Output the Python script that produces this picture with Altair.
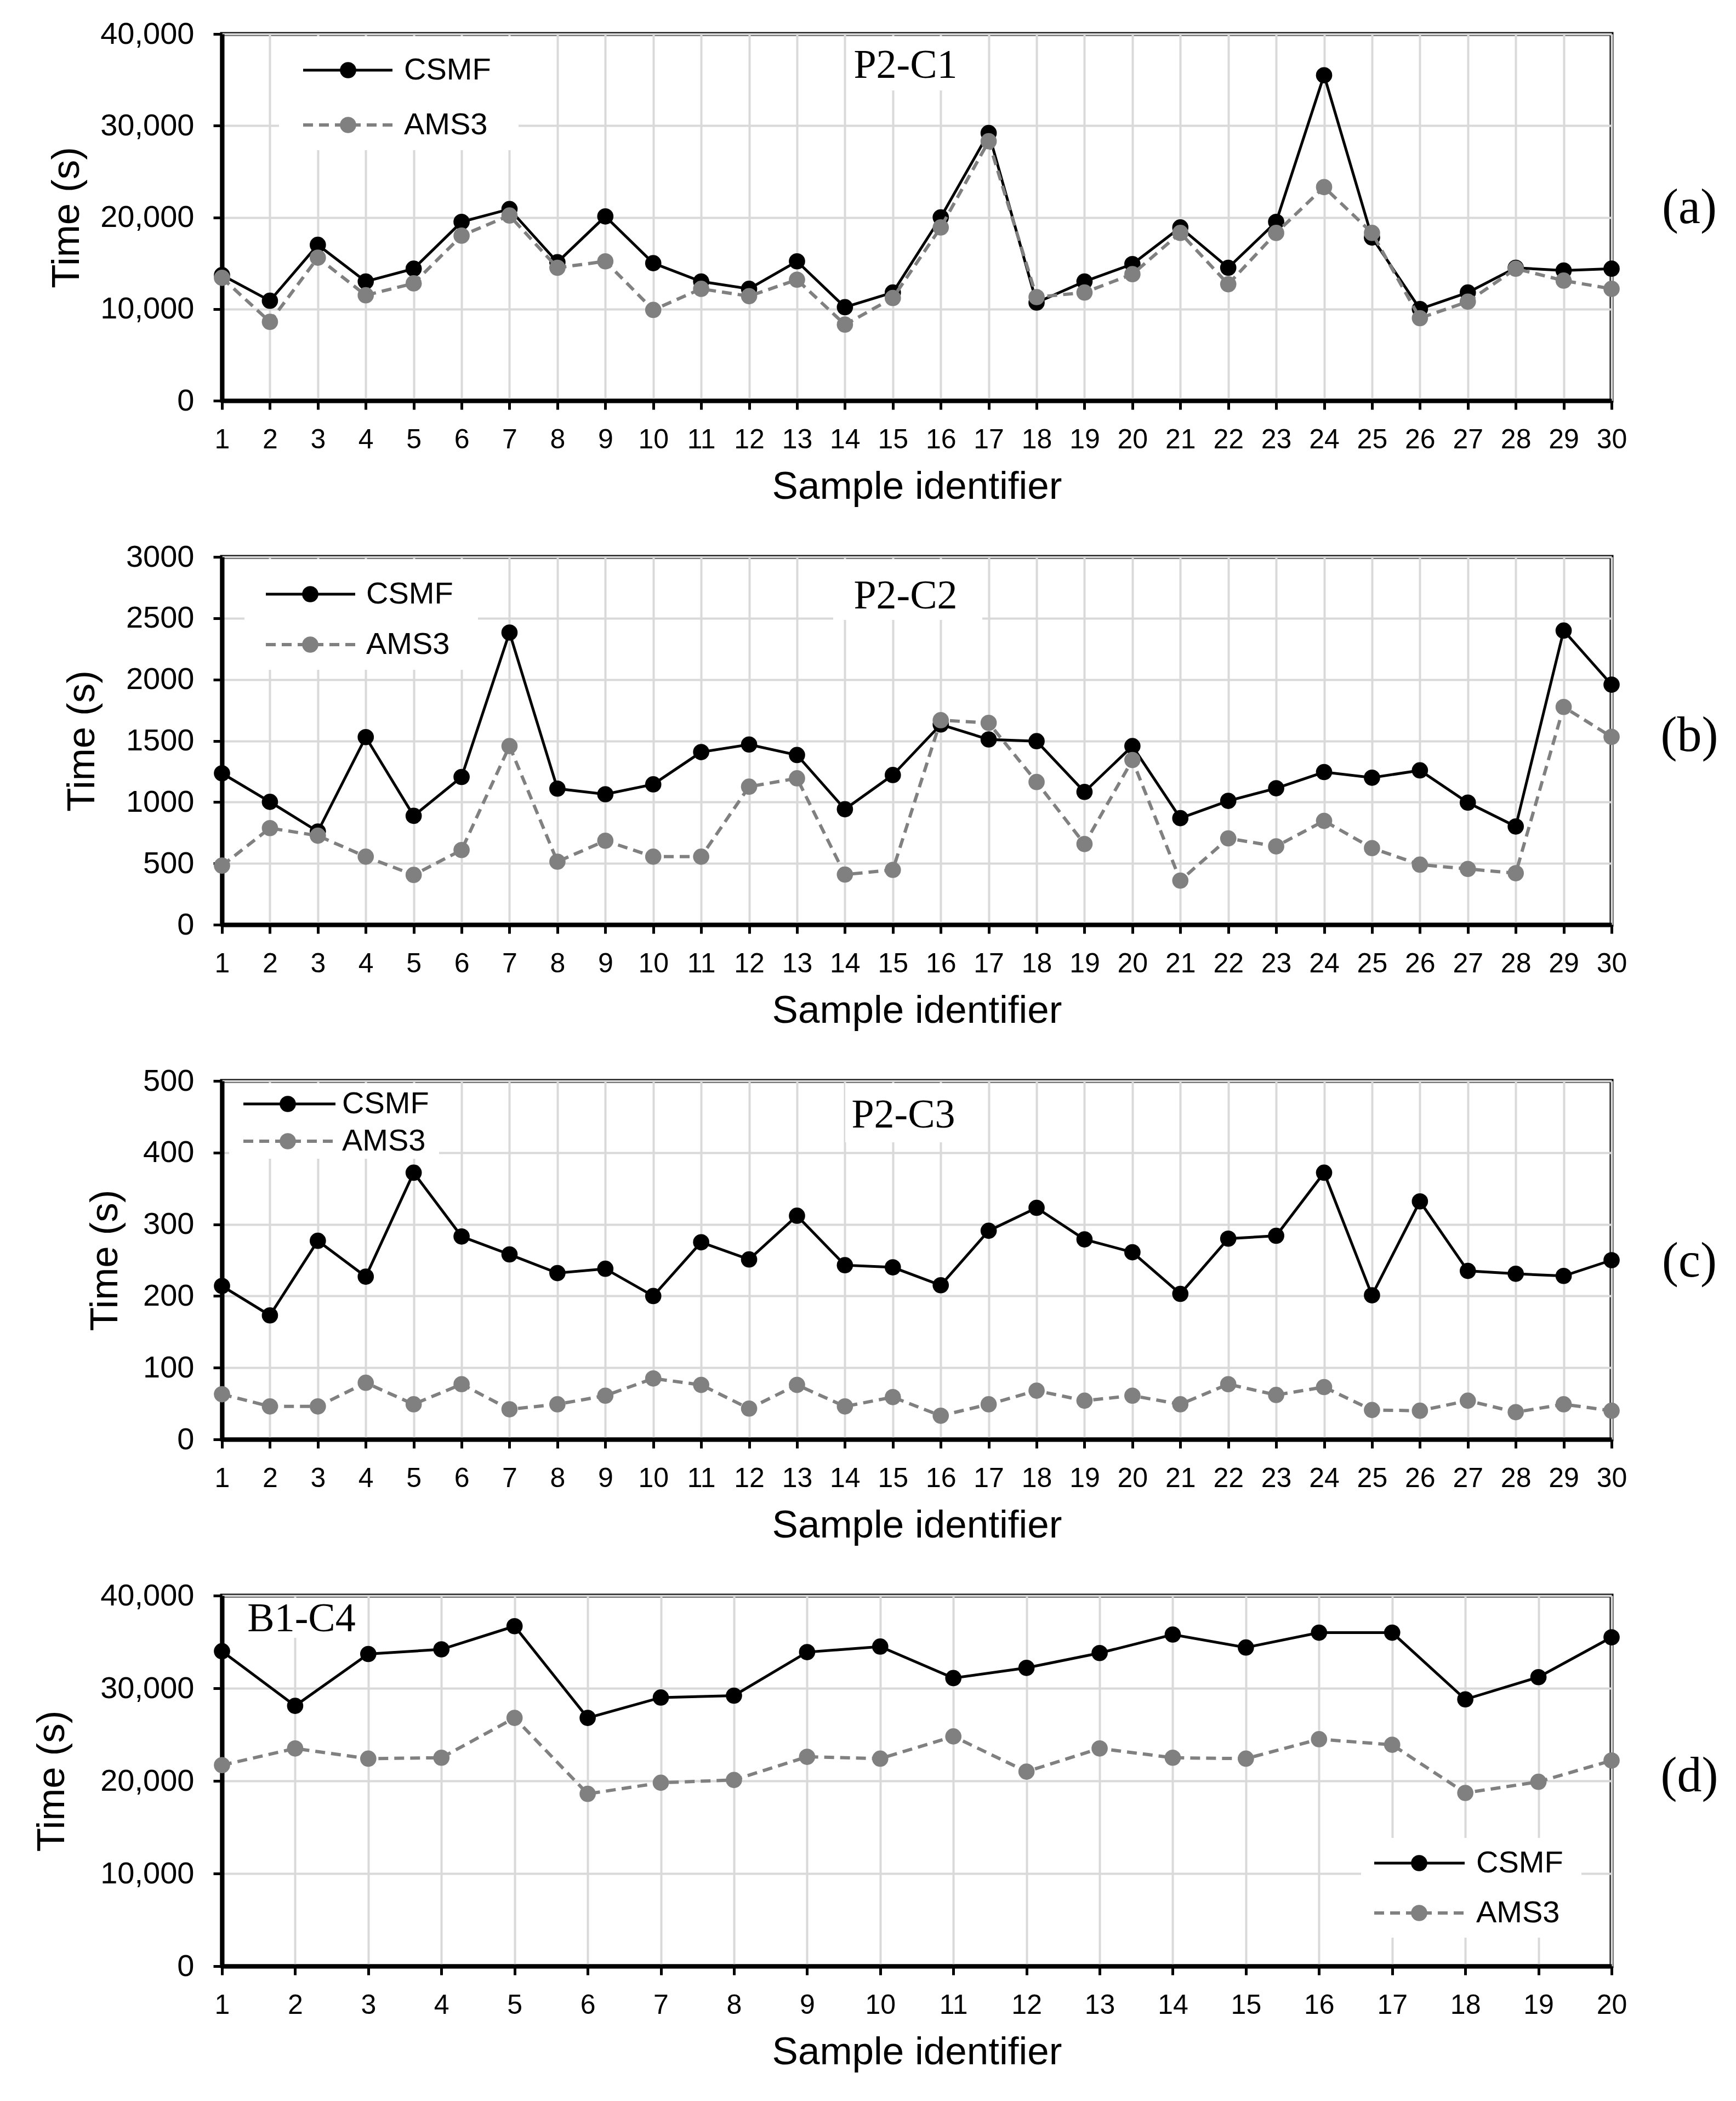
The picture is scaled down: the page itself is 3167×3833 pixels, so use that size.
import altair as alt
import pandas as pd

SANS = "Liberation Sans"
SERIF = "Liberation Serif"
BLACK = "#000000"
GRAY = "#808080"

samples30 = list(range(1, 31))
samples20 = list(range(1, 21))

a_csmf = [13700, 10900, 17000, 13000, 14400, 19500, 20900, 15100, 20100, 15000,
          13000, 12200, 15200, 10200, 11800, 20000, 29200, 10700, 13000, 14900,
          18900, 14500, 19500, 35500, 17800, 10000, 11800, 14500, 14200, 14400]
a_ams3 = [13400, 8600, 15600, 11500, 12800, 18000, 20200, 14500, 15200, 9900,
          12200, 11400, 13200, 8300, 11200, 18900, 28300, 11300, 11800, 13800,
          18300, 12700, 18300, 23300, 18300, 9000, 10800, 14400, 13100, 12200]
b_csmf = [1235, 1002, 760, 1530, 888, 1205, 2383, 1110, 1064, 1145,
          1408, 1470, 1384, 942, 1221, 1633, 1511, 1497, 1083, 1457,
          869, 1010, 1113, 1245, 1199, 1259, 996, 801, 2399, 1958]
b_ams3 = [482, 788, 726, 555, 406, 609, 1457, 514, 685, 555,
          555, 1126, 1194, 409, 447, 1668, 1646, 1164, 658, 1343,
          360, 704, 639, 847, 625, 490, 455, 420, 1776, 1532]
c_csmf = [214, 173, 277, 227, 372, 283, 258, 232, 238, 200,
          275, 251, 312, 243, 240, 215, 291, 323, 279, 261,
          203, 280, 284, 372, 201, 332, 235, 231, 228, 250]
c_ams3 = [63, 46, 46, 79, 49, 77, 42, 49, 61, 85,
          76, 43, 76, 46, 59, 33, 49, 68, 54, 61,
          49, 77, 62, 73, 41, 40, 54, 38, 49, 40]
d_csmf = [34000, 28100, 33700, 34200, 36700, 26800, 29000, 29200, 33900, 34500,
          31100, 32200, 33800, 35800, 34400, 36000, 36000, 28800, 31200, 35500]
d_ams3 = [21700, 23500, 22400, 22500, 26800, 18600, 19800, 20100, 22600, 22400,
          24800, 21000, 23500, 22500, 22400, 24500, 23900, 18700, 19900, 22200]

methods = ["CSMF", "AMS3"]
WIDTH = 2535
MSIZE = 880
CS_W = 5
AM_W = 6
DASH = [18, 11]


def overlay_layers(cfg):
    one = pd.DataFrame({"k": [0]})
    c = alt.Chart(one)
    layers = []
    bx = cfg["leg_box"]
    layers.append(c.mark_rect(color="white").encode(
        x=alt.value(bx[0]), x2=alt.value(bx[1]), y=alt.value(bx[2]), y2=alt.value(bx[3])))
    nb = cfg["name_box"]
    layers.append(c.mark_rect(color="white").encode(
        x=alt.value(nb[0]), x2=alt.value(nb[1]), y=alt.value(nb[2]), y2=alt.value(nb[3])))
    return layers


def legend_layers(cfg):
    one = pd.DataFrame({"k": [0]})
    c = alt.Chart(one)
    lx0, lx1, mx, tx = cfg["leg_x"]
    r1, r2 = cfg["leg_rows"]
    out = [
        c.mark_rule(color=BLACK, strokeWidth=CS_W).encode(
            x=alt.value(lx0), x2=alt.value(lx1), y=alt.value(r1)),
        c.mark_point(filled=True, size=MSIZE, color=BLACK, opacity=1).encode(
            x=alt.value(mx), y=alt.value(r1)),
        c.mark_text(align="left", baseline="middle", font=SANS, fontSize=56, color=BLACK).encode(
            x=alt.value(tx), y=alt.value(r1), text=alt.value(methods[0])),
        c.mark_rule(color=GRAY, strokeWidth=AM_W, strokeDash=DASH).encode(
            x=alt.value(lx0), x2=alt.value(lx1), y=alt.value(r2)),
        c.mark_point(filled=True, size=MSIZE, color=GRAY, opacity=1).encode(
            x=alt.value(mx), y=alt.value(r2)),
        c.mark_text(align="left", baseline="middle", font=SANS, fontSize=56, color=BLACK).encode(
            x=alt.value(tx), y=alt.value(r2), text=alt.value(methods[1])),
        c.mark_text(align="center", baseline="alphabetic", font=SERIF, fontSize=74, color=BLACK).encode(
            x=alt.value(cfg["name_xy"][0]), y=alt.value(cfg["name_xy"][1]), text=alt.value(cfg["name"])),
        c.mark_text(align="center", baseline="middle", font=SERIF, fontSize=90, color=BLACK).encode(
            x=alt.value(2677), y=alt.value(cfg["tag_y"]), text=alt.value(cfg["tag"])),
    ]
    return out


def make_panel(samples, csmf, ams3, cfg):
    n = len(samples)
    df = pd.DataFrame({
        "sample": samples + samples,
        "method": [methods[0]] * n + [methods[1]] * n,
        "time": csmf + ams3,
    })
    base = alt.Chart(df).encode(
        x=alt.X("sample:Q",
                scale=alt.Scale(domain=[samples[0], samples[-1]], nice=False, zero=False),
                axis=alt.Axis(values=samples, format="d", title="Sample identifier",
                              labelFlush=False, labelOverlap=False)),
        y=alt.Y("time:Q",
                scale=alt.Scale(domain=[0, cfg["ymax"]], nice=False, zero=True),
                axis=alt.Axis(values=list(range(0, cfg["ymax"] + 1, cfg["ystep"])),
                              format=cfg["yfmt"], title="Time (s)",
                              titlePadding=cfg["title_pad"])),
    )
    cs = base.transform_filter(alt.datum.method == methods[0])
    am = base.transform_filter(alt.datum.method == methods[1])
    layers = overlay_layers(cfg) + [
        cs.mark_line(color=BLACK, strokeWidth=CS_W),
        cs.mark_point(filled=True, size=MSIZE, color=BLACK, opacity=1),
        am.mark_line(color=GRAY, strokeWidth=AM_W, strokeDash=DASH),
        am.mark_point(filled=True, size=MSIZE, color=GRAY, opacity=1),
    ] + legend_layers(cfg)
    return alt.layer(*layers).properties(width=WIDTH, height=cfg["height"])


cfg_a = dict(ymax=40000, ystep=10000, yfmt=",d", height=669, title_pad=47,
             leg_box=(104, 541, 4, 212), leg_x=(148, 311, 230, 332), leg_rows=(66, 166),
             name_box=(1147, 1384, 4, 103), name="P2-C1", name_xy=(1247, 80),
             tag="(a)", tag_y=318)
cfg_b = dict(ymax=3000, ystep=500, yfmt="d", height=671, title_pad=43,
             leg_box=(41, 467, 4, 206), leg_x=(80, 243, 161, 263), leg_rows=(68, 160),
             name_box=(1115, 1387, 4, 115), name="P2-C2", name_xy=(1247, 94),
             tag="(b)", tag_y=327)
cfg_c = dict(ymax=500, ystep=100, yfmt="d", height=654, title_pad=32,
             leg_box=(13, 396, 4, 142), leg_x=(39, 207, 120, 219), leg_rows=(42, 110),
             name_box=(1137, 1384, 4, 112), name="P2-C3", name_xy=(1243, 85),
             tag="(c)", tag_y=330)
cfg_d = dict(ymax=40000, ystep=10000, yfmt=",d", height=676, title_pad=74,
             leg_box=(2078, 2480, 442, 624), leg_x=(2102, 2267, 2184, 2288), leg_rows=(488, 579),
             name_box=(30, 262, 4, 77), name="B1-C4", name_xy=(145, 65),
             tag="(d)", tag_y=330)

pa = make_panel(samples30, a_csmf, a_ams3, cfg_a)
pb = make_panel(samples30, b_csmf, b_ams3, cfg_b)
pc = make_panel(samples30, c_csmf, c_ams3, cfg_c)
pdd = make_panel(samples20, d_csmf, d_ams3, cfg_d)

chart = alt.vconcat(pa, pb, pc, pdd, spacing=285, bounds="flush").properties(
    padding={"left": 47, "top": 22, "right": 8, "bottom": 20},
    background="white",
).configure_view(
    stroke=BLACK, strokeWidth=7,
).configure_axis(
    domainColor=BLACK, domainWidth=8, tickColor=BLACK, tickWidth=5, tickSize=16,
    gridColor="#d9d9d9", gridWidth=4, labelFont=SANS, titleFont=SANS,
    titleFontWeight="normal", labelColor=BLACK, titleColor=BLACK, titleFontSize=71,
).configure_axisX(
    labelFontSize=50, labelPadding=30, titlePadding=26,
).configure_axisY(
    labelFontSize=56, labelPadding=35,
)

chart.save("out.html", embed_options={"renderer": "svg", "actions": False})
